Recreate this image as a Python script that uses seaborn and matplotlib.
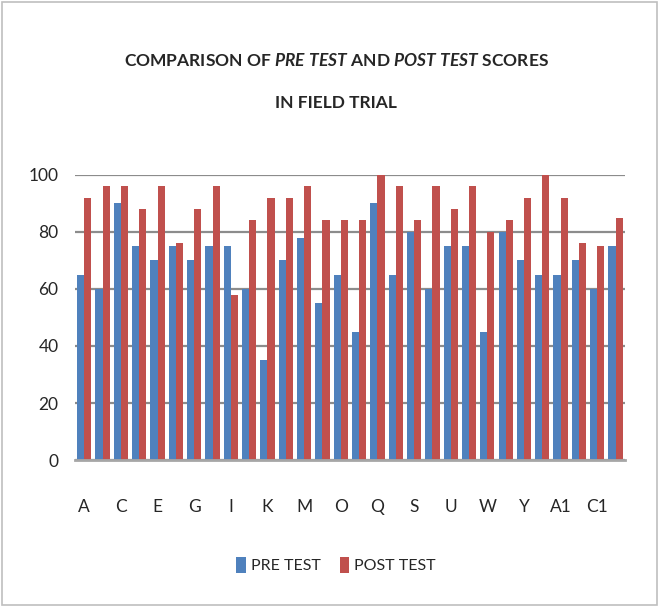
import pandas as pd
import numpy as np

import seaborn as sns
import matplotlib.pyplot as plt
from matplotlib import font_manager

sns.set_style("white")

categories = list("ABCDEFGHIJKLMNOPQRSTUVWXYZ") + ["A1", "B1", "C1", "D1"]
pre_test = [65, 60, 90, 75, 70, 75, 70, 75, 75, 60,
            35, 70, 78, 55, 65, 45, 90, 65, 80, 60,
            75, 75, 45, 80, 70, 65, 65, 70, 60, 75]
post_test = [92, 96, 96, 88, 96, 76, 88, 96, 58, 84,
             92, 92, 96, 84, 84, 84, 100, 96, 84, 96,
             88, 96, 80, 84, 92, 100, 92, 76, 75, 85]
series = ["PRE TEST", "POST TEST"]
colors = ["#4F81BD", "#C0504D"]

# pick a narrow-ish font that is actually installed
installed = {f.name for f in font_manager.fontManager.ttflist}
FONT = next(f for f in ["Liberation Sans Narrow", "Lato", "Open Sans", "DejaVu Sans"]
            if f in installed)
narrow = FONT == "Liberation Sans Narrow"

plt.rcParams["font.family"] = [FONT, "DejaVu Sans"]
plt.rcParams["mathtext.fontset"] = "custom"
plt.rcParams["mathtext.rm"] = f"{FONT}:bold"
plt.rcParams["mathtext.it"] = f"{FONT}:italic:bold"

df = pd.DataFrame({
    "category": categories * 2,
    "score": pre_test + post_test,
    "test": [series[0]] * len(categories) + [series[1]] * len(categories),
})

fig = plt.figure(figsize=(6.59, 6.07), dpi=100)
ax = fig.add_axes([0.114, 0.242, 0.834, 0.47])
sns.barplot(data=df, x="category", y="score", hue="test", palette=colors,
            width=0.78, ax=ax, saturation=1, edgecolor="none")

label_size = 14 if narrow else 12.5
ax.set_ylim(0, 100)
ax.set_yticks(np.arange(0, 101, 20))
ax.set_xlim(-0.5, len(categories) - 0.5)
ax.set_xticks(range(0, len(categories), 2))
ax.set_xticklabels(categories[::2])
ax.tick_params(axis="x", length=0, pad=28, labelsize=label_size)
ax.tick_params(axis="y", length=0, pad=12, labelsize=label_size)
ax.yaxis.grid(True, color="#8c8c8c", linewidth=1.6)
ax.set_axisbelow(True)
for side in ["top", "right", "left"]:
    ax.spines[side].set_visible(False)
ax.spines["bottom"].set_color("#a6a6a6")
ax.spines["bottom"].set_linewidth(2)
ax.set_xlabel("")
ax.set_ylabel("")

ax.legend(loc="upper center", bbox_to_anchor=(0.475, -0.29), ncol=2, frameon=False,
          fontsize=label_size - 1, handlelength=0.6, handleheight=1.1, handletextpad=0.3,
          columnspacing=1.2)

title_size = 17 if narrow else 12.5
fig.text(0.51, 0.901, r"COMPARISON OF $PRE\ TEST$ AND $POST\ TEST$ SCORES",
         ha="center", va="center", fontsize=title_size, fontweight="bold")
fig.text(0.51, 0.83, "IN FIELD TRIAL", ha="center", va="center",
         fontsize=title_size, fontweight="bold")

fig.patches.append(plt.Rectangle((0.003, 0.003), 0.994, 0.994, transform=fig.transFigure,
                                 fill=False, edgecolor="#bfbfbf", linewidth=1.2))

fig.savefig("out.png", dpi=100)
